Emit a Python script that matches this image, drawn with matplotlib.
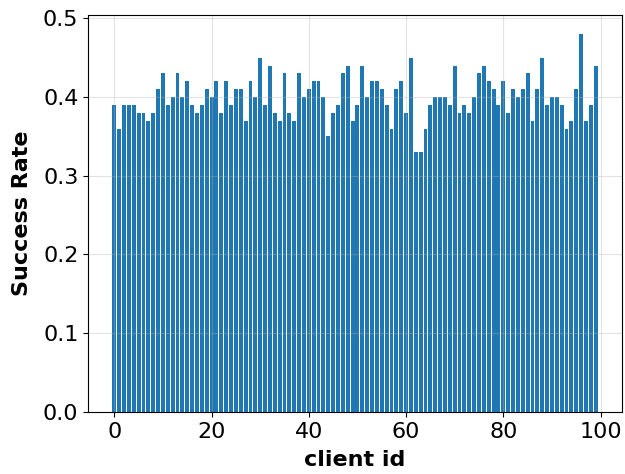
import numpy as np
import matplotlib
matplotlib.use("Agg")
import matplotlib.pyplot as plt

client_ids = np.arange(100)
success_rate = [
    0.39, 0.36, 0.39, 0.39, 0.39, 0.38, 0.38, 0.37, 0.38, 0.41,
    0.43, 0.39, 0.40, 0.43, 0.40, 0.42, 0.39, 0.38, 0.39, 0.41,
    0.40, 0.42, 0.38, 0.42, 0.39, 0.41, 0.41, 0.37, 0.42, 0.40,
    0.45, 0.39, 0.44, 0.38, 0.37, 0.43, 0.38, 0.37, 0.43, 0.40,
    0.41, 0.42, 0.42, 0.40, 0.35, 0.38, 0.39, 0.43, 0.44, 0.37,
    0.39, 0.44, 0.40, 0.42, 0.42, 0.41, 0.39, 0.36, 0.41, 0.42,
    0.38, 0.45, 0.33, 0.33, 0.36, 0.39, 0.40, 0.40, 0.40, 0.39,
    0.44, 0.38, 0.39, 0.38, 0.40, 0.43, 0.44, 0.42, 0.41, 0.39,
    0.42, 0.38, 0.41, 0.40, 0.41, 0.43, 0.37, 0.41, 0.45, 0.39,
    0.40, 0.40, 0.39, 0.36, 0.37, 0.41, 0.48, 0.37, 0.39, 0.44,
]

fig, ax = plt.subplots(figsize=(6.25, 4.74), dpi=100)
ax.bar(client_ids, success_rate, color='#1f77b4')
ax.grid(True, alpha=0.35)
ax.set_xlabel("client id", fontsize=16, fontweight='bold', labelpad=6)
ax.set_ylabel("Success Rate", fontsize=16, fontweight='bold', labelpad=8)
ax.tick_params(labelsize=16)
fig.subplots_adjust(left=0.141, right=0.995, top=0.968, bottom=0.131)
fig.savefig("out.png")
